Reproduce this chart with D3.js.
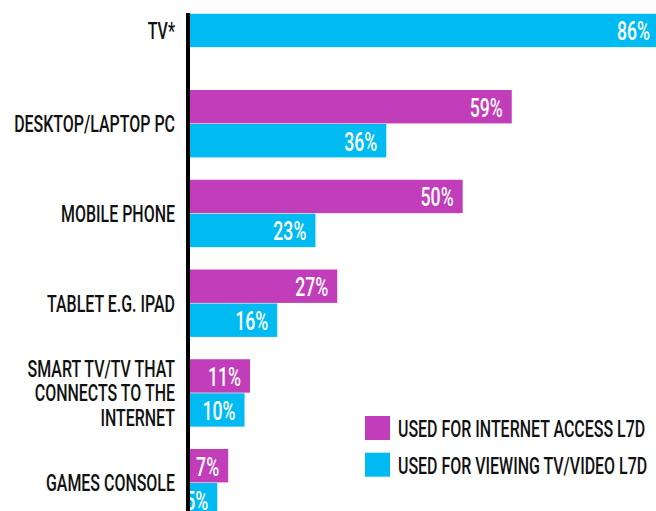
<!DOCTYPE html>
<html><head><meta charset="utf-8">
<script src="https://cdn.jsdelivr.net/npm/d3@7"></script>
<style>body{margin:0;background:#fff}svg{display:block}</style>
</head><body>
<svg id="c" width="656" height="511"></svg>
<script>
const categories = ["TV*", "DESKTOP/LAPTOP PC", "MOBILE PHONE", "TABLET E.G. IPAD", "SMART TV/TV THAT\nCONNECTS TO THE\nINTERNET", "GAMES CONSOLE"];
const internetAccess = [null, 59, 50, 27, 11, 7];
const viewingTV = [86, 36, 23, 16, 10, 5];
const seriesNames = ["USED FOR INTERNET ACCESS L7D", "USED FOR VIEWING TV/VIDEO L7D"];
const colors = ["#C13DB9", "#00BBF1"];

const svg = d3.select("#c");
const FONT = "Roboto, 'DejaVu Sans', sans-serif";
const SX = 0.665;
const FW = 500;

const x = d3.scaleLinear().domain([0, 86]).range([190, 659]);
const step = 89.75, pi = 0.2423;
const y0 = 0.25;
const y = d3.scaleBand().domain(categories).range([y0, y0 + step * categories.length]).paddingInner(pi).paddingOuter(pi / 2).align(0);
const ys = d3.scaleBand().domain([0, 1]).range([0, y.bandwidth()]);

const rows = categories.map((c, i) => ({c, vals: [internetAccess[i], viewingTV[i]]}));

const bars = [];
rows.forEach(r => {
  const present = r.vals.filter(v => v != null).length;
  r.vals.forEach((v, s) => {
    if (v == null) return;
    // a lone bar sits slightly above the centre of its group
    const top = present === 1 ? y(r.c) + (y.bandwidth() - ys.bandwidth()) / 2 - 3.5 : y(r.c) + ys(s);
    bars.push({c: r.c, s, v, top});
  });
});

svg.append("g").selectAll("rect").data(bars).join("rect")
  .attr("x", x(0))
  .attr("y", d => d.top)
  .attr("width", d => x(d.v) - x(0))
  .attr("height", ys.bandwidth() - 0.6)
  .attr("fill", d => colors[d.s]);

// value labels
svg.append("g").selectAll("text").data(bars).join("text")
  .attr("transform", d => `translate(${x(d.v) - 9},${d.top + ys.bandwidth() / 2 + 9.5}) scale(0.68,1)`)
  .attr("text-anchor", "end")
  .attr("font-family", FONT).attr("font-weight", FW).attr("font-size", 26)
  .attr("fill", "#fff")
  .text(d => d.v + "%");

// axis line
svg.append("line").attr("x1", 188).attr("x2", 188).attr("y1", 13).attr("y2", 511)
  .attr("stroke", "#000").attr("stroke-width", 4);

// category labels
const lab = svg.append("g").selectAll("text").data(categories).join("text")
  .attr("text-anchor", "end")
  .attr("font-family", FONT).attr("font-weight", FW).attr("font-size", 24)
  .attr("fill", "#111");
lab.each(function(c, i) {
  const lines = c.split("\n");
  const lone = internetAccess[i] == null || viewingTV[i] == null;
  const cy = y(c) + y.bandwidth() / 2 - 0.5 - (lone ? 3 : 0);
  const t = d3.select(this).attr("transform", `translate(175,${cy}) scale(${SX},1)`);
  lines.forEach((l, k) => {
    t.append("tspan").attr("x", 0).attr("y", (k - (lines.length - 1) / 2) * 24.3 + 8.5).text(l);
  });
});

// legend
const lg = svg.append("g").selectAll("g").data(seriesNames).join("g")
  .attr("transform", (d, i) => `translate(365,${416 + i * 36.7})`);
lg.append("rect").attr("width", 25).attr("height", 24).attr("fill", (d, i) => colors[i]);
lg.append("text").attr("transform", `translate(33,21) scale(${SX},1)`)
  .attr("font-family", FONT).attr("font-weight", FW).attr("font-size", 24).attr("fill", "#111")
  .text(d => d);
</script>
</body></html>
